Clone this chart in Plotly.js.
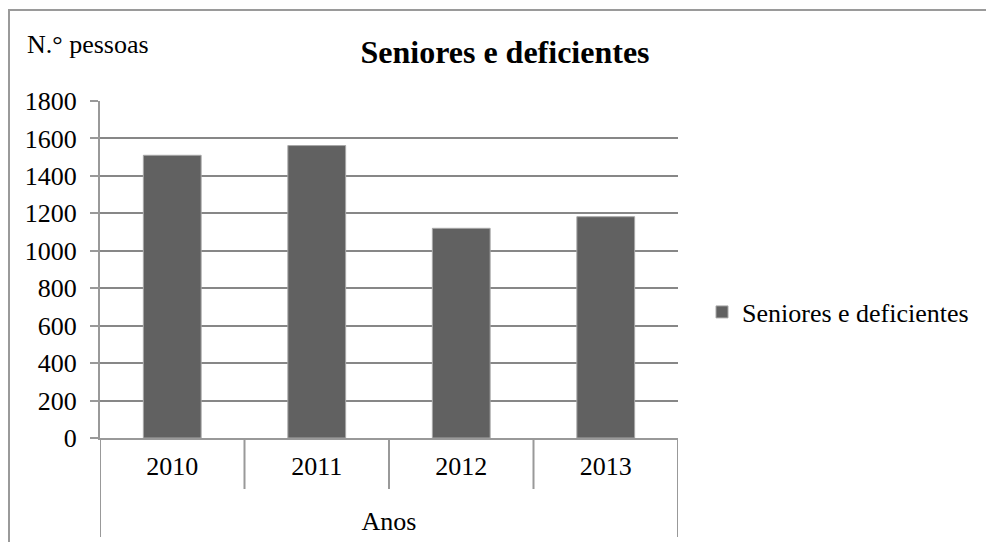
<!DOCTYPE html>
<html>
<head>
<meta charset="utf-8">
<script src="https://cdn.plot.ly/plotly-3.0.1.min.js"></script>
<style>
html,body{margin:0;padding:0;background:#fff;}
#chart{width:986px;height:542px;}
</style>
</head>
<body>
<div id="chart"></div>
<script>
const years = ["2010", "2011", "2012", "2013"];
const values = [1510, 1562, 1120, 1182];
const seriesName = "Seniores e deficientes";
const chartTitle = "Seniores e deficientes";
const yTitle = "N.° pessoas";
const xTitle = "Anos";
const yTicks = [0, 200, 400, 600, 800, 1000, 1200, 1400, 1600, 1800];

const FONT = "Liberation Serif";
const FS = 26;
const GRID = "#878787";
const LINE = "#999999";

// plot area in pixels: x 100..678, y 101..438
const L = 100, R = 678, T = 101, B = 438;
const pw = R - L, ph = B - T;
const px = v => (v - L) / pw;
const py = v => (B - v) / ph;

const shapes = [];
// category divider lines below the axis
for (let i = 0; i <= years.length; i++) {
  const outer = (i === 0 || i === years.length);
  shapes.push({
    type: "line", xref: "x", yref: "paper",
    x0: i - 0.5, x1: i - 0.5,
    y0: 0, y1: outer ? py(537) : py(489),
    line: {color: LINE, width: 2}
  });
}
// chart border (left & top)
shapes.push({type: "line", xref: "paper", yref: "paper",
  x0: px(9), x1: px(9), y0: py(9), y1: py(560), line: {color: "#9a9a9a", width: 2}});
shapes.push({type: "line", xref: "paper", yref: "paper",
  x0: px(8), x1: px(1000), y0: py(10), y1: py(10), line: {color: "#9a9a9a", width: 2}});

const trace = {
  type: "bar",
  x: years,
  y: values,
  name: seriesName,
  width: 0.4,
  marker: {color: "#616161", line: {color: "#a8a8a8", width: 1}},
  showlegend: true
};

const layout = {
  width: 986, height: 542,
  margin: {l: L, r: 986 - R, t: T, b: 542 - B, pad: 0},
  paper_bgcolor: "#ffffff", plot_bgcolor: "#ffffff",
  font: {family: FONT, size: FS, color: "#000"},
  title: {
    text: "<b>" + chartTitle + "</b>",
    font: {family: FONT, size: 32, color: "#000"},
    x: 505 / 986, xref: "container", xanchor: "center",
    y: 1 - 52 / 542, yref: "container", yanchor: "middle"
  },
  showlegend: true,
  legend: {
    x: px(702), xanchor: "left",
    y: py(312), yanchor: "middle",
    font: {family: FONT, size: FS, color: "#000"},
    bgcolor: "rgba(0,0,0,0)", borderwidth: 0
  },
  xaxis: {
    type: "category",
    categoryorder: "array", categoryarray: years,
    range: [-0.5, years.length - 0.5],
    showgrid: false, zeroline: false,
    showline: true, linecolor: LINE, linewidth: 2,
    ticks: "", ticklabelstandoff: 4,
    tickfont: {family: FONT, size: FS, color: "#000"},
    title: {text: xTitle, font: {family: FONT, size: FS, color: "#000"}, standoff: 32},
    automargin: false, fixedrange: true
  },
  yaxis: {
    range: [0, 1800],
    tickvals: yTicks, ticktext: yTicks.map(String),
    showgrid: true, gridcolor: GRID, gridwidth: 2,
    zeroline: false,
    showline: true, linecolor: LINE, linewidth: 2,
    ticks: "outside", ticklen: 8, tickcolor: LINE, tickwidth: 2,
    ticklabelstandoff: 8,
    tickfont: {family: FONT, size: FS, color: "#000"},
    automargin: false, fixedrange: true
  },
  annotations: [{
    text: yTitle, xref: "paper", yref: "paper",
    x: px(25), xanchor: "left", y: py(44), yanchor: "middle",
    showarrow: false, font: {family: FONT, size: FS, color: "#000"}
  }],
  shapes: shapes,
  bargap: 0.6
};

Plotly.newPlot("chart", [trace], layout, {displayModeBar: false, staticPlot: true});
</script>
</body>
</html>
